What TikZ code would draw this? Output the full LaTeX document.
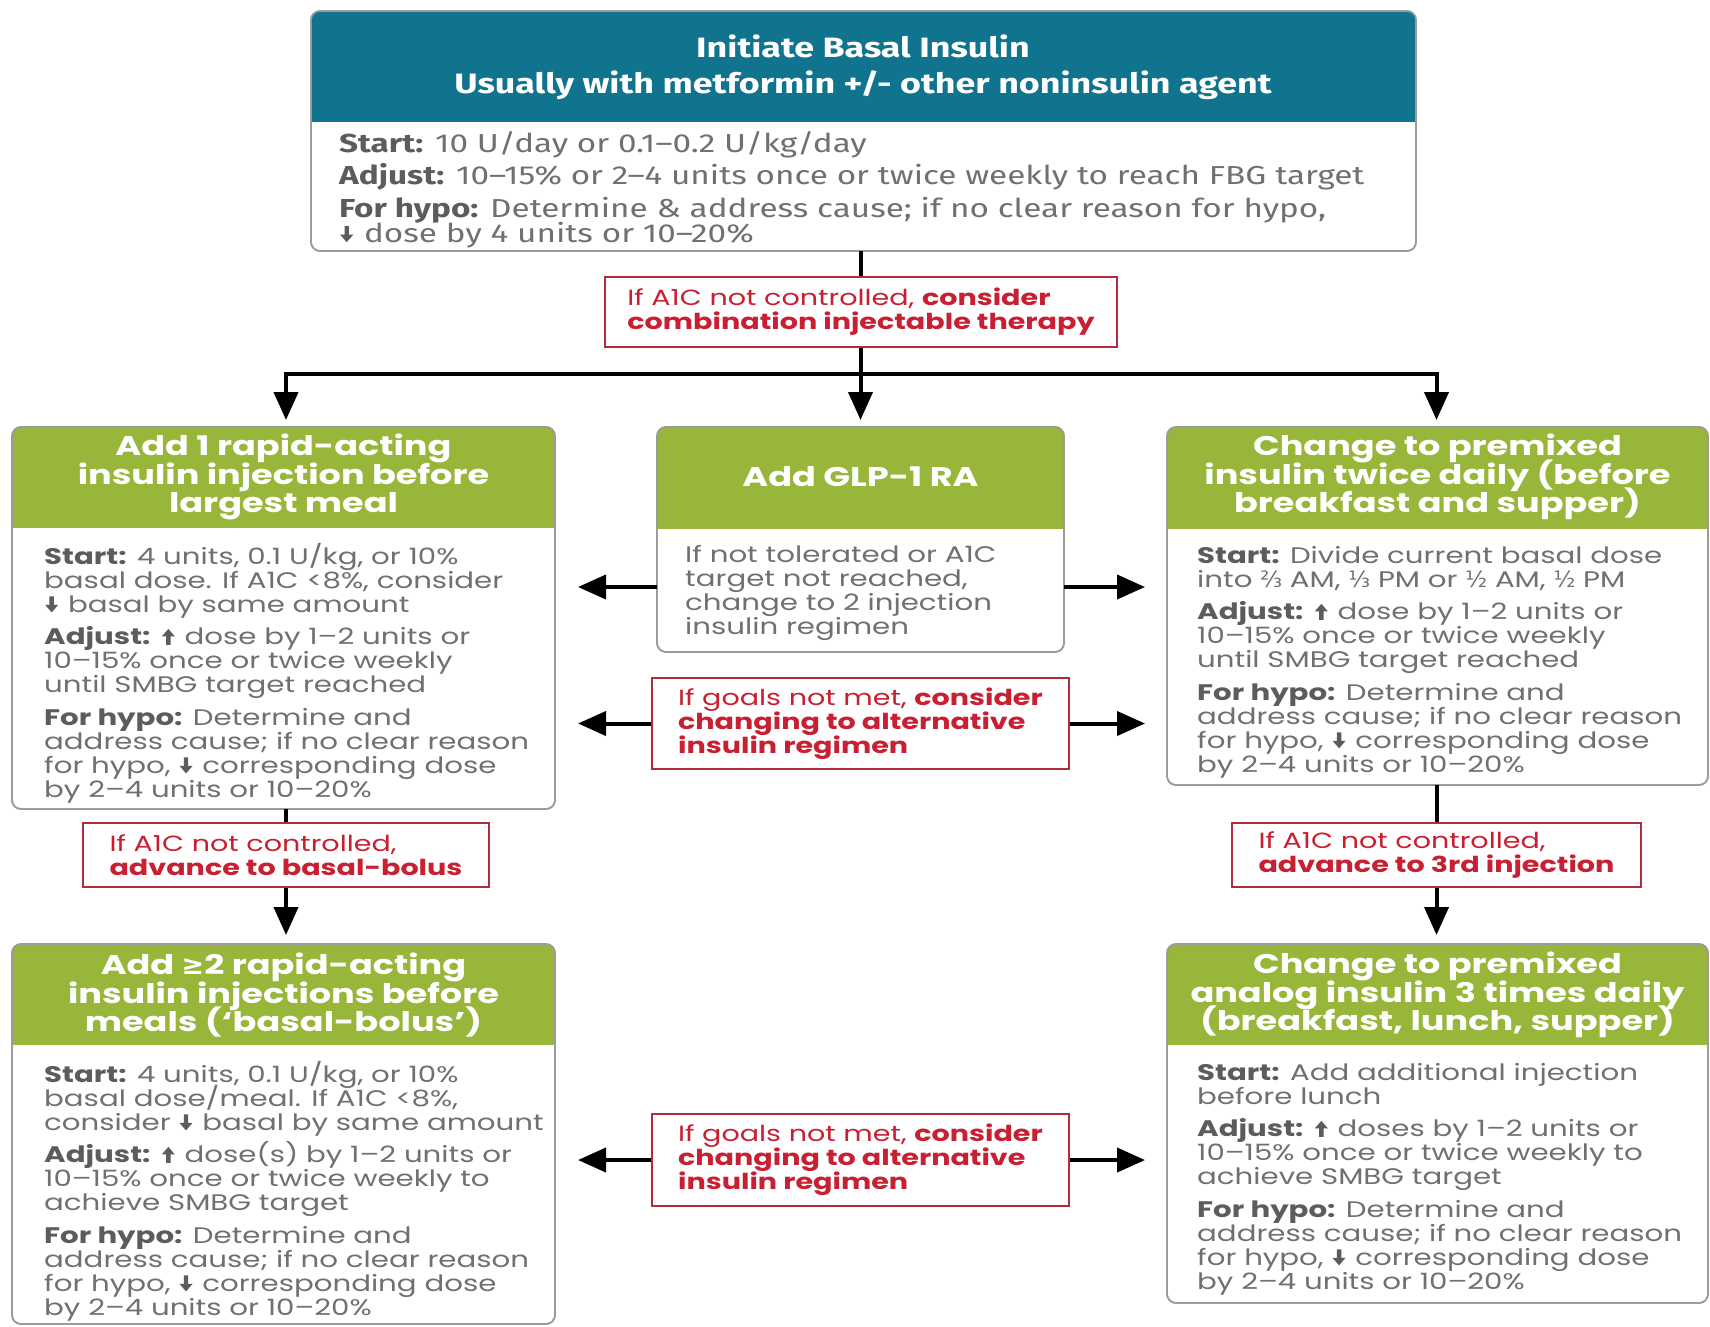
\documentclass[tikz,border=0pt]{standalone}
\usepackage{fontspec}
\setmainfont{Poppins}[FakeStretch=1.3]
\newfontfamily\topfont{Fira Sans}[FakeStretch=1.28]
\newfontfamily\symfont{DejaVu Sans}
\usetikzlibrary{arrows.meta}
\lineskiplimit=-100pt
\definecolor{tealhd}{RGB}{17,116,142}
\definecolor{greenhd}{RGB}{152,182,58}
\definecolor{redtxt}{RGB}{200,32,50}
\definecolor{redline}{RGB}{175,45,60}
\definecolor{bodygray}{RGB}{112,112,112}
\definecolor{labgray}{RGB}{92,92,92}
\definecolor{boxgray}{RGB}{155,155,155}
\newcommand\hd[1]{{\bfseries\color{labgray}#1}}
\newcommand\dnar{\hspace{1pt}\tikz[baseline=0pt,x=1pt,y=1pt]\fill[labgray] (4.3,16) -- (8.7,16) -- (8.7,7.5) -- (13,7.5) -- (6.5,0) -- (0,7.5) -- (4.3,7.5) -- cycle;\hspace{2pt}}
\newcommand\upar{\hspace{1pt}\tikz[baseline=0pt,x=1pt,y=1pt]\fill[labgray] (4.3,0) -- (8.7,0) -- (8.7,8.5) -- (13,8.5) -- (6.5,16) -- (0,8.5) -- (4.3,8.5) -- cycle;\hspace{2pt}}
\newcommand\symch[1]{{\symfont #1}}
\newcommand\flowbox[7]{%
  \node[box, anchor=north west, minimum width={(#4-#2)*1pt}, minimum height={(#5-#3)*1pt}] (#1) at (#2,#3) {};
  \begin{scope}
    \clip[rounded corners=9pt] (#2,#3) rectangle (#4,#5);
    \fill[#7] (#2,#3) rectangle (#4,#6);
  \end{scope}
  \draw[boxgray, line width=1.6pt, rounded corners=9pt] (#2,#3) rectangle (#4,#5);
}
\begin{document}
\begin{tikzpicture}[x=1pt,y=-1pt,
  box/.style={draw=boxgray, line width=1.6pt, rounded corners=9pt, fill=white, outer sep=0pt, inner sep=0pt},
  hdr/.style={align=center, text=white, inner sep=0pt, font=\bfseries\fontsize{27}{28.5}\selectfont},
  body/.style={align=left, text=bodygray, inner sep=0pt, anchor=north west, font=\fontsize{22.5}{24}\selectfont},
  lab/.style={draw=redline, line width=1.4pt, fill=white, align=left, text=redtxt, inner sep=0pt, font=\fontsize{22}{24}\selectfont},
  link/.style={line width=4pt, draw=black},
  conn/.style={line width=4pt, draw=black, -{Triangle[length=28pt,width=24pt]}}
]
\useasboundingbox (0,0) rectangle (1710,1326);
\fill[white] (0,0) rectangle (1710,1326);

% ---------- top box ----------
\flowbox{top}{311}{11}{1416}{251}{122}{tealhd}
\node[hdr, font=\topfont\bfseries\fontsize{28}{36}\selectfont] (toph) at (863,67)
  {Initiate Basal Insulin\\Usually with metformin +/- other noninsulin agent};
\node[body, font=\topfont\fontsize{26}{25}\selectfont] (topb) at (339,131)
  {\hd{Start:} 10 U/day or 0.1–0.2 U/kg/day\\[7.5pt]
   \hd{Adjust:} 10–15\% or 2–4 units once or twice weekly to reach FBG target\\[7.5pt]
   \hd{For hypo:} Determine \& address cause; if no clear reason for hypo,\\
   \dnar\ dose by 4 units or 10–20\%};

% ---------- label 1 ----------
\node[lab, minimum width=512pt, minimum height=70pt] (lab1) at (861,312)
  {If A1C not controlled, \textbf{consider}\\\textbf{combination injectable therapy}};

% ---------- row 1 boxes ----------
\flowbox{left}{12}{427}{555}{809}{528}{greenhd}
\node[hdr] (lefth) at (283.5,477)
  {Add 1 rapid-acting\\insulin injection before\\largest meal};
\node[body] (leftb) at (44,543)
  {\hd{Start:} 4 units, 0.1 U/kg, or 10\%\\
   basal dose. If A1C <8\%, consider\\
   \dnar\ basal by same amount\\[8.5pt]
   \hd{Adjust:} \upar\ dose by 1–2 units or\\
   10–15\% once or twice weekly\\
   until SMBG target reached\\[8.5pt]
   \hd{For hypo:} Determine and\\
   address cause; if no clear reason\\
   for hypo, \dnar\ corresponding dose\\
   by 2–4 units or 10–20\%};

\flowbox{mid}{657}{427}{1064}{652}{529}{greenhd}
\node[hdr] (midh) at (860.5,477) {Add GLP-1 RA};
\node[body] (midb) at (685,545)
  {If not tolerated or A1C\\
   target not reached,\\
   change to 2 injection\\
   insulin regimen};
\coordinate (midarr) at (860.5,587);

\flowbox{right}{1167}{427}{1708}{785}{529}{greenhd}
\node[hdr] (righth) at (1437.5,477)
  {Change to premixed\\insulin twice daily (before\\breakfast and supper)};
\node[body] (rightb) at (1197,546)
  {\hd{Start:} Divide current basal dose\\
   into \symch{⅔} AM, \symch{⅓} PM or \symch{½} AM, \symch{½} PM\\[8.5pt]
   \hd{Adjust:} \upar\ dose by 1–2 units or\\
   10–15\% once or twice weekly\\
   until SMBG target reached\\[8.5pt]
   \hd{For hypo:} Determine and\\
   address cause; if no clear reason\\
   for hypo, \dnar\ corresponding dose\\
   by 2–4 units or 10–20\%};

% ---------- label 2 ----------
\node[lab, minimum width=417pt, minimum height=91pt] (lab2) at (860.5,723.5)
  {If goals not met, \textbf{consider}\\\textbf{changing to alternative}\\\textbf{insulin regimen}};

% ---------- side labels ----------
\node[lab, minimum width=406pt, minimum height=64pt] (labL) at (286,855)
  {If A1C not controlled,\\\textbf{advance to basal-bolus}};
\node[lab, minimum width=409pt, minimum height=64pt] (labR) at (1436.5,855)
  {If A1C not controlled,\\\textbf{advance to 3rd injection}};

% ---------- row 2 boxes ----------
\flowbox{bl}{12}{944}{555}{1324}{1045}{greenhd}
\node[hdr] (blh) at (283.5,995)
  {Add {\symfont\bfseries ≥}2 rapid-acting\\insulin injections before\\meals (‘basal-bolus’)};
\node[body] (blb) at (44,1061)
  {\hd{Start:} 4 units, 0.1 U/kg, or 10\%\\
   basal dose/meal. If A1C <8\%,\\
   consider \dnar\ basal by same amount\\[8.5pt]
   \hd{Adjust:} \upar\ dose(s) by 1–2 units or\\
   10–15\% once or twice weekly to\\
   achieve SMBG target\\[8.5pt]
   \hd{For hypo:} Determine and\\
   address cause; if no clear reason\\
   for hypo, \dnar\ corresponding dose\\
   by 2–4 units or 10–20\%};

\flowbox{br}{1167}{944}{1708}{1303}{1045}{greenhd}
\node[hdr] (brh) at (1437.5,995)
  {Change to premixed\\analog insulin 3 times daily\\(breakfast, lunch, supper)};
\node[body] (brb) at (1197,1063)
  {\hd{Start:} Add additional injection\\
   before lunch\\[8.5pt]
   \hd{Adjust:} \upar\ doses by 1–2 units or\\
   10–15\% once or twice weekly to\\
   achieve SMBG target\\[8.5pt]
   \hd{For hypo:} Determine and\\
   address cause; if no clear reason\\
   for hypo, \dnar\ corresponding dose\\
   by 2–4 units or 10–20\%};

% ---------- label 3 ----------
\node[lab, minimum width=417pt, minimum height=92pt] (lab3) at (860.5,1160)
  {If goals not met, \textbf{consider}\\\textbf{changing to alternative}\\\textbf{insulin regimen}};

% ---------- connectors ----------
\coordinate (split) at (860,374);
\draw[link] (mid.north |- top.south) -- (lab1.north -| mid.north);
\draw[conn, shorten >=7pt] (lab1.south -| mid.north) -- (mid.north);
\draw[link, line cap=rect] (split -| labL.north) -- (split -| labR.north);
\draw[conn, shorten >=7pt] (split -| labL.north) -- (labL.north |- left.north);
\draw[conn, shorten >=7pt] (split -| labR.north) -- (labR.north |- right.north);

\draw[conn, shorten >=23pt] (mid.west |- midarr) -- (left.east |- midarr);
\draw[conn, shorten >=22pt] (mid.east |- midarr) -- (right.west |- midarr);
\draw[conn, shorten >=23pt] (lab2.west) -- (left.east |- lab2.west);
\draw[conn, shorten >=22pt] (lab2.east) -- (right.west |- lab2.east);

\draw[link] (labL.north |- left.south) -- (labL.north);
\draw[conn, shorten >=9pt] (labL.south) -- (labL.south |- bl.north);
\draw[link] (labR.north |- right.south) -- (labR.north);
\draw[conn, shorten >=9pt] (labR.south) -- (labR.south |- br.north);

\draw[conn, shorten >=23pt] (lab3.west) -- (bl.east |- lab3.west);
\draw[conn, shorten >=22pt] (lab3.east) -- (br.west |- lab3.east);
\end{tikzpicture}
\end{document}
